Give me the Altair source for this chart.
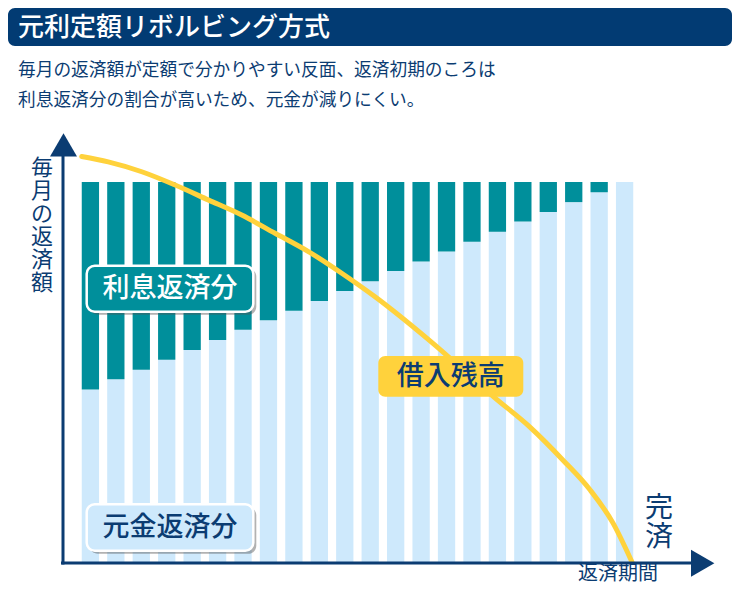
import altair as alt
import pandas as pd

# ---------------- data ----------------
periods = list(range(1, 23))
interest = [54.6, 51.9, 49.4, 46.8, 44.2, 41.6, 38.9, 36.4, 33.9, 31.3, 28.7,
            26.1, 23.4, 20.9, 18.3, 15.7, 13.1, 10.4, 7.9, 5.3, 2.7, 0.0]
payment = [100.0] * 22
principal = [round(p - i, 1) for p, i in zip(payment, interest)]

balance_x = [0.66, 1.70, 3.02, 4.33, 5.63, 6.95, 8.26, 9.57, 10.88, 12.19,
             14.35, 16.90, 18.28, 19.58, 20.64, 21.54, 22.29]
balance_y = [106.7, 105.3, 102.7, 99.2, 95.3, 91.3, 86.5, 81.7, 76.0, 69.8,
             58.2, 43.2, 35.5, 26.8, 19.0, 10.3, 0.0]

title = "元利定額リボルビング方式"
subtitle = ["毎月の返済額が定額で分かりやすい反面、返済初期のころは",
            "利息返済分の割合が高いため、元金が減りにくい。"]
label_interest = "利息返済分"
label_principal = "元金返済分"
label_balance = "借入残高"
y_title = list("毎月の返済額")
x_title = "返済期間"
end_label = list("完済")

# ---------------- styles ----------------
FONT = "Noto Sans CJK JP"
NAVY = "#0b3c72"
TITLE_BG = "#023b73"
TEAL = "#008f9b"
LIGHT = "#cee9fc"
YELLOW = "#ffd23c"

xs = alt.Scale(domain=[1, 22], range=[82.4, 616.6], nice=False, zero=False, padding=0)
ys = alt.Scale(domain=[0, 100], range=[554, 174], nice=False, zero=False, padding=0)

bars = pd.DataFrame({"period": periods, "principal": principal,
                     "interest": interest, "total": payment})
curve = pd.DataFrame({"t": balance_x, "balance": balance_y})
one = pd.DataFrame({"k": [0]})

principal_bars = alt.Chart(bars).mark_bar(size=17.3, color=LIGHT).encode(
    x=alt.X("period:Q", scale=xs, axis=None),
    y=alt.Y("principal:Q", scale=ys, axis=None),
    y2=alt.datum(0),
)
interest_bars = alt.Chart(bars).mark_bar(size=17.3, color=TEAL).encode(
    x=alt.X("period:Q", scale=xs, axis=None),
    y=alt.Y("principal:Q", scale=ys, axis=None),
    y2="total:Q",
)
balance_line = alt.Chart(curve).mark_line(
    color=YELLOW, strokeWidth=5, interpolate="monotone", strokeCap="round"
).encode(
    x=alt.X("t:Q", scale=xs, axis=None),
    y=alt.Y("balance:Q", scale=ys, axis=None),
    order="t:Q",
)


def rect(x1, x2, y1, y2, **kw):
    return alt.Chart(one).mark_rect(**kw).encode(
        x=alt.value(x1), x2=alt.value(x2), y=alt.value(y1), y2=alt.value(y2))


def text(t, x, y, size, color, **kw):
    return alt.Chart(one).mark_text(font=FONT, fontSize=size, color=color, **kw).encode(
        x=alt.value(x), y=alt.value(y), text=alt.value(t))


# header
header = rect(0, 724, 0, 38, fill=TITLE_BG, cornerRadius=7)
header_text = text(title, 10, 19.5, 26, "white", align="left", baseline="middle", fontWeight=500)
sub1 = text(subtitle[0], 10, 62.5, 17.7, NAVY, align="left", baseline="middle")
sub2 = text(subtitle[1], 10, 92.5, 17.7, NAVY, align="left", baseline="middle")

# axes
y_axis = alt.Chart(one).mark_rule(color=NAVY, strokeWidth=3).encode(
    x=alt.value(55), y=alt.value(556.5), y2=alt.value(142))
x_axis = alt.Chart(one).mark_rule(color=NAVY, strokeWidth=3).encode(
    x=alt.value(53), x2=alt.value(690), y=alt.value(555))
y_arrow = alt.Chart(one).mark_point(shape="triangle-up", size=729, filled=True,
                                    color=NAVY, opacity=1).encode(
    x=alt.value(55.5), y=alt.value(136.9))
x_arrow = alt.Chart(one).mark_point(shape="triangle-right", size=729, filled=True,
                                    color=NAVY, opacity=1).encode(
    x=alt.value(694.7), y=alt.value(555.3))

y_label = text(y_title, 34, 150, 22, NAVY, align="center", baseline="top", lineHeight=23)
x_label = text(x_title, 610, 566, 20, NAVY, align="center", baseline="middle")
end_text = text(end_label, 651, 487, 28, NAVY, align="center", baseline="top", lineHeight=29)

# label boxes
int_shadow = rect(81.7, 248.3, 260.7, 306.7, fill="#555555", opacity=0.45, cornerRadius=8)
int_box = rect(78.7, 245.3, 257.7, 303.7, fill=TEAL, stroke="white", strokeWidth=2.5, cornerRadius=8)
int_text = text(label_interest, 162, 281, 27, "white", align="center", baseline="middle", fontWeight=500)

pri_shadow = rect(81.7, 248.3, 499.3, 545.7, fill="#555555", opacity=0.45, cornerRadius=8)
pri_box = rect(78.7, 245.3, 496.3, 542.7, fill=LIGHT, stroke="white", strokeWidth=2.5, cornerRadius=8)
pri_text = text(label_principal, 162, 520, 27, NAVY, align="center", baseline="middle", fontWeight=500)

bal_box = rect(370.3, 515.3, 348, 388.7, fill=YELLOW, cornerRadius=7)
bal_text = text(label_balance, 442.8, 368.8, 27, NAVY, align="center", baseline="middle", fontWeight=500)

chart = alt.layer(
    header, header_text, sub1, sub2,
    principal_bars, interest_bars,
    int_shadow, int_box, int_text,
    pri_shadow, pri_box, pri_text,
    balance_line,
    bal_box, bal_text,
    y_axis, x_axis, y_arrow, x_arrow,
    y_label, x_label, end_text,
).properties(
    width=724, height=577, autosize="none", padding=0
).configure_view(stroke=None)

chart.save("out.html", embed_options={"renderer": "svg", "actions": False})
